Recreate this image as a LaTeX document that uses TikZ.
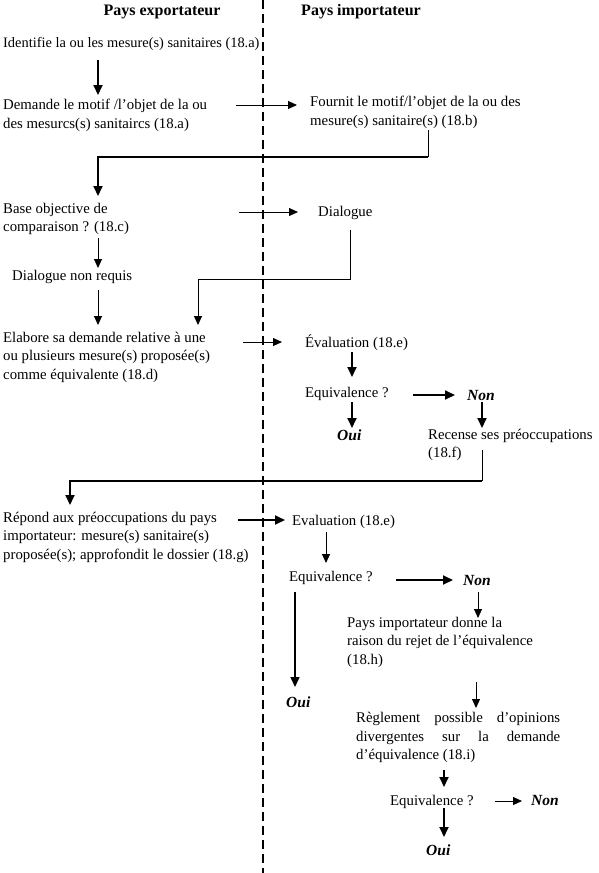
\documentclass[tikz,border=0pt]{standalone}
\usepackage{fontspec}
\setmainfont{Liberation Serif}
\usetikzlibrary{arrows.meta,calc}
\tikzset{
  txt/.style={inner sep=0pt, font=\fontsize{14.8}{18.5}\selectfont},
  mtxt/.style={txt, align=left, anchor=north west},
  ttl/.style={inner sep=0pt, font=\fontsize{16}{18}\selectfont\bfseries, anchor=base},
  yn/.style={inner sep=0pt, font=\fontsize{15.5}{18}\selectfont\bfseries\itshape, anchor=base west},
  thn/.style={line width=0.9pt, -{Triangle[length=9pt,width=8pt]}},
  thk/.style={line width=1.8pt, -{Triangle[length=10pt,width=9pt]}},
  mid/.style={line width=1.4pt, -{Triangle[length=10pt,width=9pt]}},
  plainthin/.style={line width=0.9pt},
  sep/.style={line width=1.6pt, dash pattern=on 9pt off 5pt}
}
\begin{document}
\begin{tikzpicture}[x=1pt,y=1pt]
\useasboundingbox[fill=white] (0,0) rectangle (599,-873);
% separator
\coordinate (sepT) at (263,0);
\coordinate (sepB) at (263,-873);
\draw[sep] (sepT) -- (sepB);
% titles
\node[ttl] (t1) at (162,-15) {Pays exportateur};
\node[ttl] (t2) at (361,-15) {Pays importateur};
% nodes
\node[txt, anchor=base west, font=\fontsize{14.4}{18.5}\selectfont] (n1) at (3,-47) {Identifie la ou les mesure(s) sanitaires (18.a)};
\node[mtxt] (n2) at (3,-99) {Demande le motif /l’objet de la ou\\des mesurcs(s) sanitaircs (18.a)};
\node[mtxt] (n3) at (310,-96) {Fournit le motif/l’objet de la ou des\\mesure(s) sanitaire(s) (18.b)};
\node[mtxt] (n4) at (3,-203) {Base objective de\\comparaison ? (18.c)};
\node[txt, anchor=base west] (n5) at (318,-216) {Dialogue};
\node[txt, anchor=base west] (n6) at (12,-280) {Dialogue non requis};
\node[mtxt] (n7) at (3,-332) {Elabore sa demande relative à une\\ou plusieurs mesure(s) proposée(s)\\comme équivalente (18.d)};
\node[txt, anchor=base west] (n8) at (305,-347) {Évaluation (18.e)};
\node[txt, anchor=base west] (n9) at (305,-397) {Equivalence ?};
\node[yn] (n10) at (467,-400) {Non};
\node[yn] (n11) at (337,-440) {Oui};
\node[mtxt] (n12) at (428,-429) {Recense ses préoccupations\\(18.f)};
\node[mtxt] (n13) at (3,-512) {Répond aux préoccupations du pays\\importateur: mesure(s) sanitaire(s)\\proposée(s); approfondit le dossier (18.g)};
\node[txt, anchor=base west] (n14) at (292,-525) {Evaluation (18.e)};
\node[txt, anchor=base west] (n15) at (289,-581) {Equivalence ?};
\node[yn] (n16) at (463,-585) {Non};
\node[mtxt] (n17) at (347,-617) {Pays importateur donne la\\raison du rejet de l’équivalence\\(18.h)};
\node[yn] (n18) at (286,-707) {Oui};
\node[mtxt] (n19) at (356,-712) {\hbox to 204pt{Règlement\hfill possible\hfill d’opinions}\\\hbox to 204pt{divergentes\hfill sur\hfill la\hfill demande}\\d’équivalence (18.i)};
\node[txt, anchor=base west] (n20) at (390,-805) {Equivalence ?};
\node[yn] (n21) at (531,-805) {Non};
\node[yn] (n22) at (426,-855) {Oui};
% connectors
\draw[thk] ($(n1.base west)+(95,-13)$) -- ($(n2.north west)+(95,4)$);
\draw[thn] ($(n2.north west)+(233,-6)$) -- ($(n3.north west)+(-13,-9)$);
\draw[plainthin] ($(n3.north west)+(118,-34)$) -- ($(n3.north west)+(118,-61)$);
\draw[thk] ($(n3.north west)+(118,-61)$) -- ($(n4.north west)+(95,46)$) -- ($(n4.north west)+(95,7)$);
\draw[thn] ($(n4.north west)+(236,-9)$) -- ($(n5.base west)+(-20,4)$);
\draw[thn] ($(n4.north west)+(95,-35)$) -- ($(n6.base west)+(86,12)$);
\draw[thn] ($(n6.base west)+(86,-10)$) -- ($(n7.north west)+(95,7)$);
\draw[thn] ($(n5.base west)+(32,-14)$) |- ($(n7.north west)+(195,53)$) -- ($(n7.north west)+(195,7)$);
\draw[thn] ($(n7.north west)+(240,-10)$) -- ($(n8.base west)+(-23,5)$);
\draw[thk] ($(n8.base west)+(47,-5)$) -- ($(n9.base west)+(47,20)$);
\draw[thk] ($(n9.base west)+(108,2)$) -- ($(n10.base west)+(-12,5)$);
\draw[thk] ($(n9.base west)+(47,-5)$) -- ($(n11.base west)+(15,12)$);
\draw[thk] ($(n10.base west)+(15,-2)$) -- ($(n12.north west)+(54,1)$);
\draw[plainthin] ($(n12.north west)+(54,-21)$) -- ($(n12.north west)+(54,-52)$);
\draw[thk] ($(n12.north west)+(54,-52)$) -- ($(n13.north west)+(67,31)$) -- ($(n13.north west)+(67,7)$);
\draw[thk] ($(n13.north west)+(235,-8)$) -- ($(n14.base west)+(-7,5)$);
\draw[thn] ($(n14.base west)+(34,-7)$) -- ($(n15.base west)+(37,18)$);
\draw[thk] ($(n15.base west)+(107,1)$) -- ($(n16.base west)+(-10,5)$);
\draw[thn] ($(n16.base west)+(15,-7)$) -- ($(n17.north west)+(131,-1)$);
\draw[mid] ($(n15.base west)+(6,-11)$) -- ($(n18.base west)+(9,20)$);
\draw[thn] ($(n17.north west)+(129,-65)$) -- ($(n19.north west)+(120,4)$);
\draw[thk] ($(n19.north west)+(88,-58)$) -- ($(n20.base west)+(54,18)$);
\draw[thn] ($(n20.base west)+(105,4)$) -- ($(n21.base west)+(-9,4)$);
\draw[thk] ($(n20.base west)+(54,-3)$) -- ($(n22.base west)+(18,18)$);
\end{tikzpicture}
\end{document}
